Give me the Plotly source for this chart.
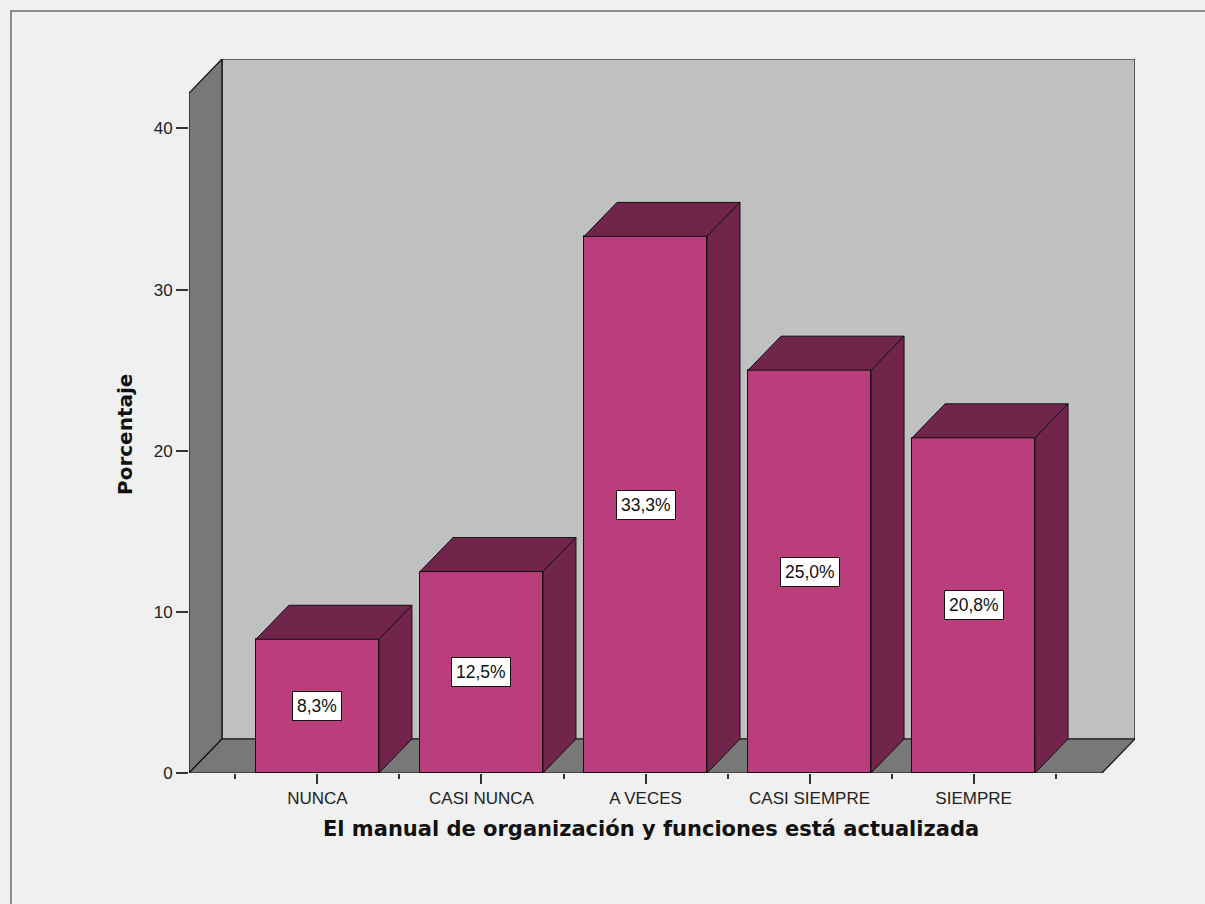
import plotly.graph_objects as go

# ---- data ----
categories = ["NUNCA", "CASI NUNCA", "A VECES", "CASI SIEMPRE", "SIEMPRE"]
percentages = [8.3, 12.5, 33.3, 25.0, 20.8]
y_ticks = [0, 10, 20, 30, 40]

# ---- look ----
FRONT = "#BA3E7C"
DARK = "#72254B"
BACK_WALL = "#C0C0C0"
SIDE_WALL = "#787878"
PAGE = "#F0F0F0"
FONT = "Liberation Sans, Arial, sans-serif"
TITLE_FONT = "DejaVu Sans, Verdana, sans-serif"

# pseudo-3D box geometry (data units)
BAR_W = 0.75
DX = 0.201          # depth offset along the category axis
DY = 2.11           # depth offset along the value axis
X0, X1 = -0.783, 4.783
YMAX = 42.2

W, H = 1205, 904
L, R, T, B = 189, 70, 59, 131
PW, PH = W - L - R, H - T - B


def px_x(p):
    return (p - L) / PW


def px_y(p):
    return (H - B - p) / PH


xs = list(range(len(categories)))

fig = go.Figure()

# front faces
fig.add_trace(go.Bar(
    x=xs, y=percentages, width=BAR_W,
    marker=dict(color=FRONT, line=dict(color="#111111", width=1)),
    hoverinfo="skip", showlegend=False,
))

# top and right faces, computed from each bar's value
top_x, top_y, side_x, side_y = [], [], [], []
for i, v in zip(xs, percentages):
    a, b = i - BAR_W / 2, i + BAR_W / 2
    top_x += [a, b, b + DX, a + DX, a, None]
    top_y += [v, v, v + DY, v + DY, v, None]
    side_x += [b, b + DX, b + DX, b, b, None]
    side_y += [0, DY, v + DY, v, 0, None]

for px_, py_ in ((top_x, top_y), (side_x, side_y)):
    fig.add_trace(go.Scatter(
        x=px_, y=py_, mode="lines", fill="toself", fillcolor=DARK,
        line=dict(color="#111111", width=1),
        hoverinfo="skip", showlegend=False,
    ))


def poly(pts):
    return "M " + " L ".join(f"{x},{y}" for x, y in pts) + " Z"


shapes = [
    # back wall
    dict(type="path", xref="x", yref="y", layer="below",
         path=poly([(X0 + DX, DY), (X1 + DX, DY), (X1 + DX, YMAX + DY), (X0 + DX, YMAX + DY)]),
         fillcolor=BACK_WALL, line=dict(color="#111111", width=1.2)),
    # left wall
    dict(type="path", xref="x", yref="y", layer="below",
         path=poly([(X0, 0), (X0, YMAX), (X0 + DX, YMAX + DY), (X0 + DX, DY)]),
         fillcolor=SIDE_WALL, line=dict(color="#111111", width=1.2)),
    # floor
    dict(type="path", xref="x", yref="y", layer="below",
         path=poly([(X0, 0), (X1, 0), (X1 + DX, DY), (X0 + DX, DY)]),
         fillcolor=SIDE_WALL, line=dict(color="#111111", width=1.2)),
    # outer frame (top and left edges)
    dict(type="line", xref="paper", yref="paper",
         x0=px_x(10), x1=px_x(W), y0=px_y(11), y1=px_y(11),
         line=dict(color="#8C8C8C", width=2)),
    dict(type="line", xref="paper", yref="paper",
         x0=px_x(11), x1=px_x(11), y0=px_y(10), y1=px_y(H),
         line=dict(color="#8C8C8C", width=2)),
]

annotations = []
for i, v in zip(xs, percentages):
    annotations.append(dict(
        x=i, y=v / 2, xref="x", yref="y", showarrow=False,
        text=f"{v:.1f}".replace(".", ",") + "%",
        font=dict(family=FONT, size=17.5, color="#111111"),
        bgcolor="white", bordercolor="#111111", borderwidth=1, borderpad=4,
    ))

annotations.append(dict(
    x=px_x(651), y=px_y(829), xref="paper", yref="paper", showarrow=False,
    text="<b>El manual de organización y funciones está actualizada</b>",
    font=dict(family=TITLE_FONT, size=21, color="#111111"),
    xanchor="center", yanchor="middle",
))
annotations.append(dict(
    x=px_x(125), y=px_y(435), xref="paper", yref="paper", showarrow=False,
    text="<b>Porcentaje</b>", textangle=-90,
    font=dict(family=TITLE_FONT, size=20, color="#111111"),
    xanchor="center", yanchor="middle",
))

fig.update_layout(
    width=W, height=H,
    margin=dict(l=L, r=R, t=T, b=B),
    paper_bgcolor=PAGE, plot_bgcolor=PAGE,
    shapes=shapes, annotations=annotations,
    showlegend=False, bargap=0,
    xaxis=dict(
        range=[X0, X1 + DX], tickmode="array", tickvals=xs, ticktext=categories,
        ticks="outside", ticklen=10, tickwidth=1.5, tickcolor="#333333",
        minor=dict(tickmode="array", tickvals=[i - 0.5 for i in xs] + [xs[-1] + 0.5],
                   ticks="outside", ticklen=5, tickwidth=1.5, tickcolor="#333333"),
        showgrid=False, zeroline=False, showline=False,
        tickfont=dict(family=FONT, size=17, color="#222222"),
        fixedrange=True,
    ),
    yaxis=dict(
        range=[0, YMAX + DY], tickmode="array", tickvals=y_ticks,
        ticks="outside", ticklen=12, tickwidth=1.5, tickcolor="#333333",
        showgrid=False, zeroline=False, showline=False,
        tickfont=dict(family=FONT, size=17, color="#222222"),
        fixedrange=True,
    ),
)

fig.write_html("out.html")
